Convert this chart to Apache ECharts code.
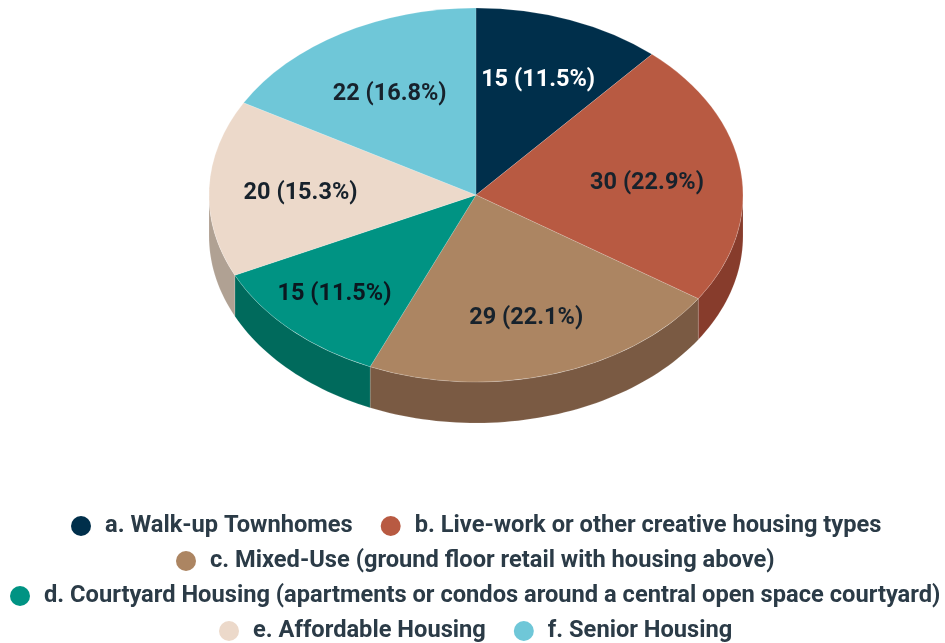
<!DOCTYPE html>
<html>
<head>
<meta charset="utf-8">
<style>html,body{margin:0;padding:0;background:#fff}#c{width:945px;height:643px}</style>
<script src="https://cdn.jsdelivr.net/npm/echarts@6/dist/echarts.min.js"></script>
</head>
<body>
<div id="c"></div>
<script>
const categories = [
  'a. Walk-up Townhomes',
  'b. Live-work or other creative housing types',
  'c. Mixed-Use (ground floor retail with housing above)',
  'd. Courtyard Housing (apartments or condos around a central open space courtyard)',
  'e. Affordable Housing',
  'f. Senior Housing'
];
const values = [15, 30, 29, 15, 20, 22];

const topColors = ['#002f4b', '#b85a42', '#ac8562', '#009383', '#ecd9ca', '#6fc7d8'];
const sideColors = ['#00202f', '#873c2c', '#7a5a43', '#006a5c', '#b0a193', '#4f95a3'];
const labelColors = ['#ffffff', '#17222c', '#17222c', '#0b1820', '#17222c', '#17222c'];
const labelNudge = [[1, -1], [-1, 4], [1, 7], [-21, 12], [-2, 2], [1, 4]];
const legendRows = [[0, 1], [2], [3], [4, 5]];
const legendLefts = [71, 176, 10, 219];
const legendTops = [514, 549, 584, 619];

const CX = 476, CY = 195, RX = 267, RY = 187, DEPTH = 41, LABEL_R = 0.65;
const total = values.reduce((a, b) => a + b, 0);
const rad = d => d * Math.PI / 180;

function renderSlice(index) {
  return function (params, api) {
    const v = api.value(0);
    let before = 0;
    for (let i = 0; i < index; i++) before += values[i];
    const a0 = -90 + before / total * 360;
    const a1 = a0 + v / total * 360;
    const children = [];

    const s = Math.max(a0, 0), e = Math.min(a1, 180);
    if (e > s) {
      const pts = [], n = Math.max(2, Math.ceil((e - s) / 1.5));
      for (let k = 0; k <= n; k++) {
        const t = rad(s + (e - s) * k / n);
        pts.push([CX + RX * Math.cos(t), CY + RY * Math.sin(t)]);
      }
      for (let k = n; k >= 0; k--) {
        const t = rad(s + (e - s) * k / n);
        pts.push([CX + RX * Math.cos(t), CY + RY * Math.sin(t) + DEPTH]);
      }
      children.push({
        type: 'polygon', z2: 1,
        shape: { points: pts },
        style: { fill: sideColors[index], stroke: 'rgba(255,255,255,0.25)', lineWidth: 0.5 }
      });
    }

    children.push({
      type: 'sector', z2: 2,
      x: CX, y: CY, scaleY: RY / RX,
      shape: { cx: 0, cy: 0, r0: 0, r: RX, startAngle: rad(a0), endAngle: rad(a1), clockwise: true },
      style: { fill: topColors[index], stroke: 'rgba(255,255,255,0.3)', lineWidth: 0.6 }
    });

    const mid = rad((a0 + a1) / 2);
    children.push({
      type: 'text', z2: 3,
      x: CX + RX * LABEL_R * Math.cos(mid) + labelNudge[index][0],
      y: CY + RY * LABEL_R * Math.sin(mid) + labelNudge[index][1],
      style: {
        text: v + ' (' + (v / total * 100).toFixed(1) + '%)',
        fill: labelColors[index],
        font: 'bold 23.5px Roboto',
        align: 'center',
        verticalAlign: 'middle'
      }
    });
    return { type: 'group', children: children };
  };
}

const chart = echarts.init(document.getElementById('c'), null, { renderer: 'canvas' });
chart.setOption({
  animation: false,
  backgroundColor: '#ffffff',
  legend: legendRows.map((row, i) => ({
    data: row.map(j => categories[j]),
    left: legendLefts[i],
    top: legendTops[i],
    orient: 'horizontal',
    icon: 'circle',
    itemWidth: 20,
    itemHeight: 20,
    itemGap: 28,
    padding: 0,
    selectedMode: false,
    textStyle: {
      color: '#2b3b47',
      fontFamily: 'Roboto',
      fontWeight: 'bold',
      fontSize: 23.66,
      padding: [0, 0, 0, 9]
    }
  })),
  series: categories.map((name, i) => ({
    type: 'custom',
    name: name,
    coordinateSystem: 'none',
    itemStyle: { color: topColors[i] },
    data: [[values[i]]],
    renderItem: renderSlice(i)
  }))
});
</script>
</body>
</html>
